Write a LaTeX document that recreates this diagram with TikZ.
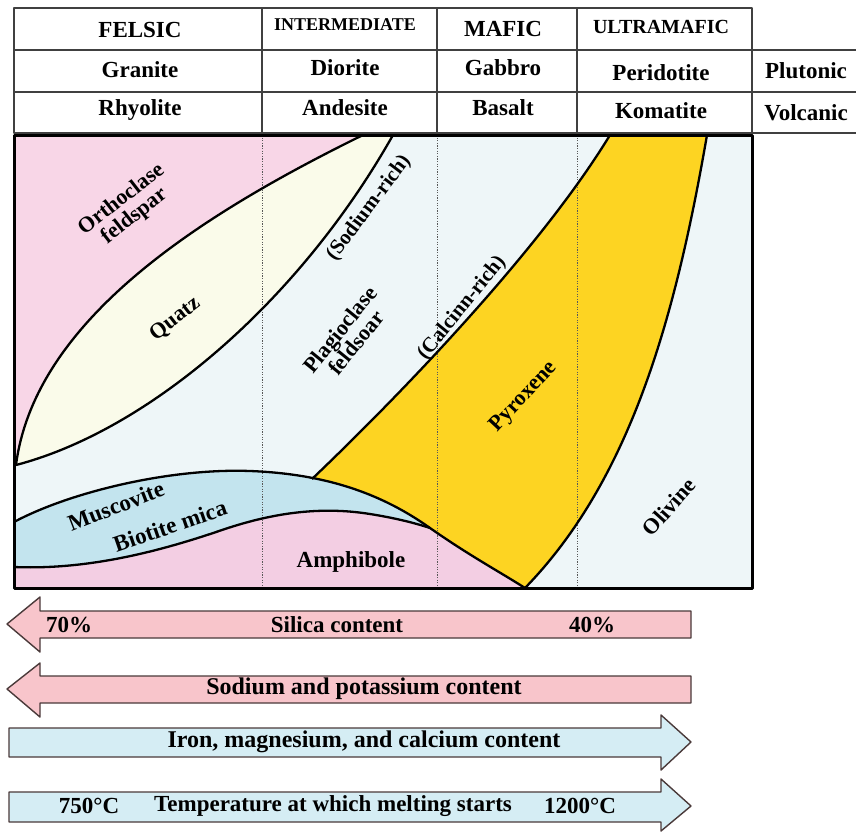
\documentclass[tikz,border=0pt]{standalone}
\usepackage{fontspec}
\setmainfont{Liberation Serif}
\definecolor{orthpink}{HTML}{F8D6E7}
\definecolor{bglight}{HTML}{EEF6F8}
\definecolor{cream}{HTML}{FAFBEA}
\definecolor{pyro}{HTML}{FDD422}
\definecolor{musc}{HTML}{C3E4EE}
\definecolor{amph}{HTML}{F3CEE3}
\definecolor{arrpink}{HTML}{F8C5CB}
\definecolor{arrblue}{HTML}{D5EDF4}
\definecolor{arredge}{HTML}{4A3A3A}
\newcommand\fsz[1]{\bfseries\fontsize{#1}{#1}\selectfont}
\begin{document}
\begin{tikzpicture}[x=1pt,y=-1pt,line join=round]
\tikzset{
  tline/.style={draw=black!75,line width=1.4pt},
  tx/.style={inner sep=0pt,font=\fsz{23}},
  lbl/.style={inner sep=0pt,font=\fsz{22},align=center},
  curve/.style={draw=black,line width=2.3pt},
  dotline/.style={draw=black!65,line width=0.8pt,dash pattern=on 1.2pt off 1.4pt},
  pinkarr/.style={fill=arrpink,draw=arredge,line width=1.4pt},
  bluearr/.style={fill=arrblue,draw=arredge,line width=1.4pt}
}
\useasboundingbox (0,0) rectangle (856,832);
\fill[white] (0,0) rectangle (856,832);

% ---------- table ----------
\draw[tline] (14,8) rectangle (752,133);
\draw[tline] (14,50) -- (856,50);
\draw[tline] (14,92) -- (856,92);
\draw[tline] (752,133) -- (856,133);
\foreach \xx in {262,437,577} \draw[tline] (\xx,8) -- (\xx,133);

\node[tx] (felsic) at (140,30) {FELSIC};
\node[tx,font=\fsz{18}] (inter) at (345,25) {INTERMEDIATE};
\node[tx] (mafic) at (503,29) {MAFIC};
\node[tx,font=\fsz{20}] (ultra) at (661,27) {ULTRAMAFIC};

\node[tx] (granite) at (140,70) {Granite};
\node[tx] (diorite) at (345,68) {Diorite};
\node[tx] (gabbro) at (503,68) {Gabbro};
\node[tx] (perid) at (661,73) {Peridotite};
\node[tx] (pluto) at (806,71) {Plutonic};

\node[tx] (rhyo) at (140,110) {Rhyolite};
\node[tx] (ande) at (345,108) {Andesite};
\node[tx] (basalt) at (503,108) {Basalt};
\node[tx] (koma) at (661,111) {Komatite};
\node[tx] (volc) at (806,113) {Volcanic};

% ---------- chart fills ----------
\fill[bglight] (14,135) rectangle (752,588);
\fill[orthpink] (14,135) -- (363,135) .. controls (200,215) and (35,320) .. (16,465) -- (14,465) -- cycle;
\fill[cream] (16,465) .. controls (35,320) and (200,215) .. (363,135) -- (393,135) .. controls (300,300) and (150,430) .. (16,465) -- cycle;
\fill[pyro] (312,479) .. controls (400,395) and (540,250) .. (610,135) -- (707,135) .. controls (675,320) and (630,480) .. (525,588) -- (420,590) -- (300,490) -- cycle;
\fill[musc] (14,522) .. controls (70,492) and (170,468) .. (250,471) .. controls (330,474) and (385,496) .. (430,528) .. controls (470,556) and (500,572) .. (525,588) -- (14,588) -- cycle;
\fill[amph] (14,567) .. controls (85,570) and (155,553) .. (222,530) .. controls (272,513) and (320,506) .. (370,514) .. controls (395,518) and (415,523) .. (430,528) .. controls (470,556) and (500,572) .. (525,588) -- (14,588) -- cycle;

% dotted column lines
\foreach \xx in {262,437,577} \draw[dotline] (\xx,135) -- (\xx,588);

% boundary curves
\draw[curve] (16,465) .. controls (35,320) and (200,215) .. (363,135);
\draw[curve] (16,465) .. controls (150,430) and (300,300) .. (393,135);
\draw[curve] (312,479) .. controls (400,395) and (540,250) .. (610,135);
\draw[curve] (707,135) .. controls (675,320) and (630,480) .. (525,588);
\draw[curve] (14,522) .. controls (70,492) and (170,468) .. (250,471) .. controls (330,474) and (385,496) .. (430,528) .. controls (470,556) and (500,572) .. (525,588);
\draw[curve] (14,567) .. controls (85,570) and (155,553) .. (222,530) .. controls (272,513) and (320,506) .. (370,514) .. controls (395,518) and (415,523) .. (430,528);

\draw[line width=3pt] (14,135) rectangle (752,588);

% chart labels
\node[lbl,rotate=38] (ortho) at (128,208) {Orthoclase\\[-1pt]feldspar};
\node[lbl,rotate=38] (quartz) at (175,319) {Quatz};
\node[lbl,font=\fsz{21},rotate=53] (sodium) at (369,208) {(Sodium-rich)};
\node[lbl,rotate=51] (plag) at (348,336) {Plagioclase\\[-1pt]feldsoar};
\node[lbl,font=\fsz{21},rotate=51] (calc) at (462,308) {(Calcinn-rich)};
\node[lbl,rotate=47] (pyrox) at (524,397) {Pyroxene};
\node[lbl,rotate=48] (olivine) at (669,507) {Olivine};
\node[lbl,font=\fsz{23},rotate=21] (muscov) at (116,506) {Muscovite};
\node[lbl,font=\fsz{23},rotate=19] (biot) at (170,526) {Biotite mica};
\node[lbl,font=\fsz{23}] (amphi) at (351,562) {Amphibole};

% ---------- arrows ----------
\draw[pinkarr] (691,611) -- (40,611) -- (40,597) -- (7,624) -- (40,652) -- (40,638) -- (691,638) -- cycle;
\draw[pinkarr] (691,676) -- (40,676) -- (40,663) -- (7,689) -- (40,717) -- (40,703) -- (691,703) -- cycle;
\draw[bluearr] (9,728) -- (661,728) -- (661,715) -- (691,742) -- (661,770) -- (661,757) -- (9,757) -- cycle;
\draw[bluearr] (9,792) -- (661,792) -- (661,779) -- (691,806) -- (661,831) -- (661,822) -- (9,822) -- cycle;

\node[tx] (p70) at (69,625) {70\%};
\node[tx] (silica) at (337,625) {Silica content};
\node[tx] (p40) at (592,625) {40\%};
\node[tx,font=\fsz{24}] (napot) at (364,689) {Sodium and potassium content};
\node[tx,font=\fsz{24}] (femg) at (364,742) {Iron, magnesium, and calcium content};
\node[tx] (t750) at (89,806) {750°C};
\node[tx] (temp) at (333,806) {Temperature at which melting starts};
\node[tx] (t1200) at (580,806) {1200°C};
\end{tikzpicture}
\end{document}
